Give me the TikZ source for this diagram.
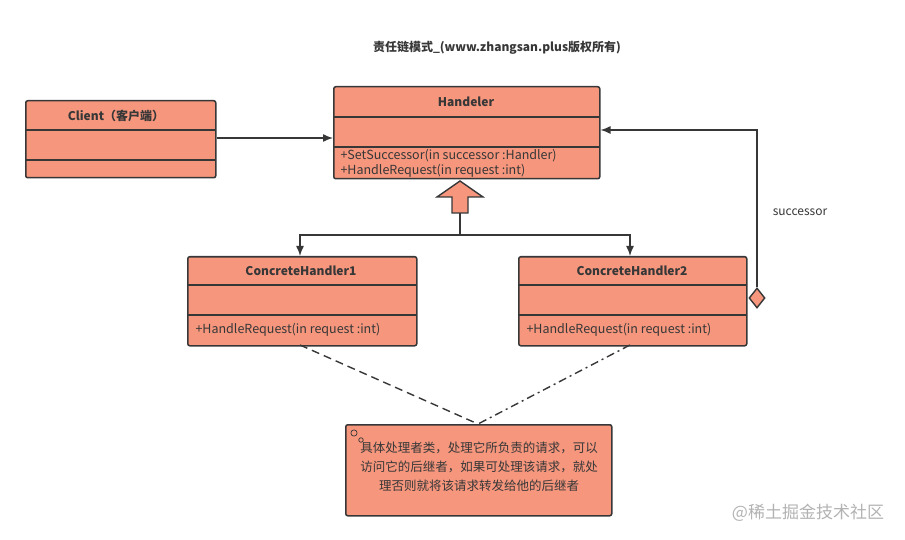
\documentclass[tikz,border=0pt]{standalone}
\usepackage{fontspec}
\setmainfont{Noto Sans CJK SC}
\usetikzlibrary{calc,positioning,shapes.geometric,arrows.meta}
\definecolor{umlfill}{RGB}{245,150,125}
\definecolor{umlline}{RGB}{55,55,55}
\tikzset{
  umlbox/.style={draw=umlline,fill=umlfill,rounded corners=2pt,line width=1.5pt,
    anchor=north west,inner sep=0pt},
  umltitle/.style={font=\bfseries\fontsize{12}{14}\selectfont,text=umlline},
  umlop/.style={font=\fontsize{12.5}{15}\selectfont,text=umlline,anchor=west,align=left},
  conn/.style={draw=umlline,line width=1.4pt},
  tip/.style={-{Latex[length=10pt,width=8pt]}},
}
\begin{document}
\begin{tikzpicture}[x=1pt,y=-1pt]
  \useasboundingbox (0,0) rectangle (905,540);
  \node[font=\bfseries\fontsize{12}{14}\selectfont,text=umlline] (title) at (497,48)
    {责任链模式\_(www.zhangsan.plus版权所有)};
  % class boxes
  \node[umlbox,minimum width=190,minimum height=77] (client) at (25,100) {};
  \node[umlbox,minimum width=266,minimum height=92] (handler) at (333,86) {};
  \node[umlbox,minimum width=229,minimum height=89] (ch1) at (187,256) {};
  \node[umlbox,minimum width=228,minimum height=89] (ch2) at (518,256) {};
  \node[umlbox,minimum width=266,minimum height=91] (note) at (345,424) {};
  % compartments
  \draw[conn] (25,130) -- (215,130) (25,160) -- (215,160);
  \draw[conn] (333,117) -- (599,117) (333,147) -- (599,147);
  \draw[conn] (187,285) -- (416,285) (187,315) -- (416,315);
  \draw[conn] (518,285) -- (746,285) (518,315) -- (746,315);
  % texts
  \node[umltitle] (clientname) at (116,116) {Client（客户端）};
  \node[umltitle] (handlername) at (466,102) {Handeler};
  \node[umltitle] (ch1name) at (301,271) {ConcreteHandler1};
  \node[umltitle] (ch2name) at (632,271) {ConcreteHandler2};
  \node[umlop] (handlerops) at (337,163) {+SetSuccessor(in successor :Handler)\\+HandleRequest(in request :int)};
  \node[umlop] (ch1ops) at (192,330) {+HandleRequest(in request :int)};
  \node[umlop] (ch2ops) at (523,330) {+HandleRequest(in request :int)};
  \node[font=\fontsize{12.5}{19}\selectfont,text=umlline,align=center] (notetext) at (479,467)
    {具体处理者类，处理它所负责的请求，可以\\访问它的后继者，如果可处理该请求，就处\\理否则就将该请求转发给他的后继者};
  \node[font=\fontsize{12}{14}\selectfont,text=umlline] (succlabel) at (800,212) {successor};
  \node[font=\fontsize{17}{19}\selectfont,text=gray!60] (mark) at (808,513) {@稀土掘金技术社区};
  % gear icon
  \node[draw=umlline,circle,inner sep=2.2pt,line width=0.7pt] (gear1) at (354,433) {};
  \node[draw=umlline,circle,inner sep=1.6pt,line width=0.7pt] (gear2) at (361,440) {};
  % connectors
  \draw[conn,tip] (client.east |- 0,138) -- (handler.west |- 0,138);
  \coordinate (split) at (460,235);
  \draw[conn,fill=umlfill] (460,181) -- (483,197) -- (468,197) -- (468,213)
    -- (452,213) -- (452,197) -- (437,197) -- cycle;
  \draw[conn] (460,213) -- (split);
  \draw[conn,tip] (split) -- (300,235) -- (ch1.north -| 300,0);
  \draw[conn,tip] (split) -- (630,235) -- (ch2.north -| 630,0);
  \node[diamond,draw=umlline,fill=umlfill,line width=1.4pt,inner sep=0pt,
    minimum width=16,minimum height=20] (agg) at (757,298) {};
  \draw[conn,tip] (agg.north) -- (757,130) -- (handler.east |- 0,130);
  \draw[conn,dash pattern=on 8pt off 5pt] (300,345) -- (note.north -| 478,0);
  \draw[conn,dash pattern=on 8pt off 4pt on 2pt off 4pt] (630,345) -- (note.north -| 478,0);
\end{tikzpicture}
\end{document}
